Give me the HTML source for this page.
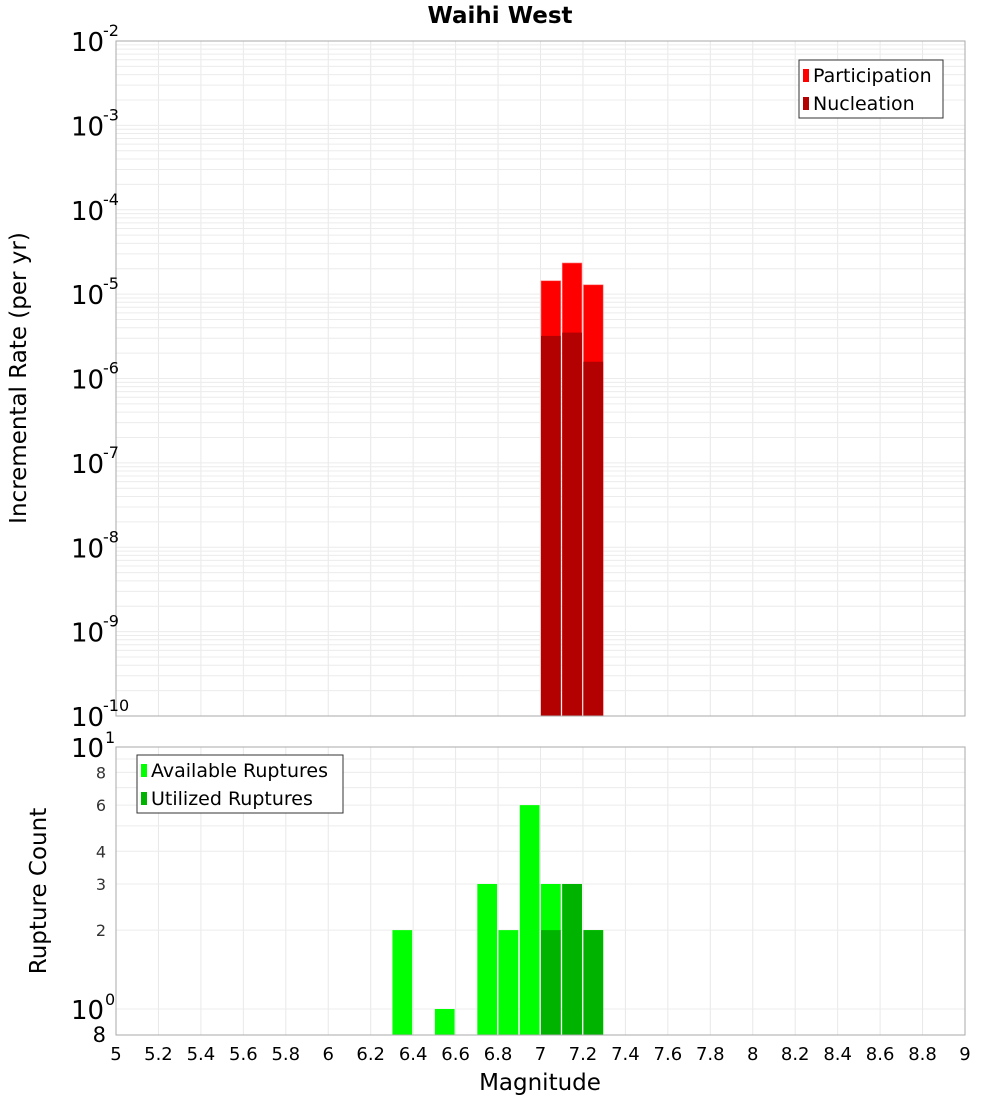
<!DOCTYPE html>
<html><head><meta charset="utf-8"><style>
body{margin:0;background:#fff;font-family:"Liberation Sans","DejaVu Sans",sans-serif}
svg text{font-family:"DejaVu Sans","Liberation Sans",sans-serif}
</style></head><body>
<svg id="c" width="1000" height="1100" xmlns="http://www.w3.org/2000/svg">
<text x="500" y="23" text-anchor="middle" font-size="23" font-weight="bold">Waihi West</text>
<text transform="translate(26,378) rotate(-90)" text-anchor="middle" font-size="23">Incremental Rate (per yr)</text>
<text transform="translate(46,891) rotate(-90)" text-anchor="middle" font-size="23">Rupture Count</text>
<text x="540" y="1090" text-anchor="middle" font-size="23">Magnitude</text>
<g id="g"></g>
</svg>
<script>
const mags=[7.05,7.15,7.25];
const participation=[1.44e-5,2.34e-5,1.29e-5];
const nucleation=[3.2e-6,3.5e-6,1.58e-6];
const countMags=[6.35,6.55,6.75,6.85,6.95,7.05,7.15,7.25];
const available=[2,1,3,2,6,3,3,2];
const utilMags=[7.05,7.15,7.25];
const utilized=[2,3,2];
const xTicks=["5","5.2","5.4","5.6","5.8","6","6.2","6.4","6.6","6.8","7","7.2","7.4","7.6","7.8","8","8.2","8.4","8.6","8.8","9"];
const topExps=[-2,-3,-4,-5,-6,-7,-8,-9,-10];
const botTicks=[8,6,4,3,2];

const NS="http://www.w3.org/2000/svg";
const g=document.getElementById('g');
function el(t,a,p){const e=document.createElementNS(NS,t);for(const k in a)e.setAttribute(k,a[k]);(p||g).appendChild(e);return e;}
const X0=116,X1=965;
const x=m=>X0+(m-5)/4*(X1-X0);
const T0=41,T1=716;
const yT=v=>T0+(-2-Math.log10(v))*(T1-T0)/8;
const B0=747,B1=1035,K=262;
const yB=v=>B0+(1-Math.log10(v))*K;

for(let i=0;i<xTicks.length;i++){const xx=x(parseFloat(xTicks[i]));
 let l=el('line',{x1:xx,x2:xx,y1:T0,y2:T1,stroke:'#e8e8e8'});
 l=el('line',{x1:xx,x2:xx,y1:B0,y2:B1,stroke:'#e8e8e8'});}
for(let e=-10;e<-2;e++)for(let k=1;k<10;k++){const yy=yT(k*Math.pow(10,e));
 const l=el('line',{x1:X0,x2:X1,y1:yy,y2:yy,stroke:'#ececec'});}
[1,2,3,4,5,6,7,8,9,10].forEach(v=>{const yy=yB(v);const l=el('line',{x1:X0,x2:X1,y1:yy,y2:yy,stroke:'#ececec'});});

const w=(X1-X0)/40;
mags.forEach((m,i)=>{
 let r=el('rect',{x:x(m)-w/2+0.5,y:yT(participation[i]),width:w-1.5,height:T1-yT(participation[i]),fill:'#ff0000',stroke:'#ff8080','stroke-width':0.6});
 
 r=el('rect',{x:x(m)-w/2+0.5,y:yT(nucleation[i]),width:w-1.5,height:T1-yT(nucleation[i]),fill:'#b30000'});
 });
countMags.forEach((m,i)=>{const r=el('rect',{x:x(m)-w/2+0.5,y:yB(available[i]),width:w-1.5,height:B1-yB(available[i]),fill:'#00ff00'});
 });
utilMags.forEach((m,i)=>{const r=el('rect',{x:x(m)-w/2+0.5,y:yB(utilized[i]),width:w-1.5,height:B1-yB(utilized[i]),fill:'#00b300'});
 });

let f=el('rect',{x:X0,y:T0,width:X1-X0,height:T1-T0,fill:'none',stroke:'#aaa'});
f=el('rect',{x:X0,y:B0,width:X1-X0,height:B1-B0,fill:'none',stroke:'#aaa'});

xTicks.forEach(t=>{const tx=el('text',{x:x(parseFloat(t)),y:1060,'text-anchor':'middle','font-size':18});tx.textContent=t;
 });
topExps.forEach(e=>{const yy=yT(Math.pow(10,e));
 const t=el('text',{x:71,y:yy+10,'font-size':26});t.textContent='10';
 const s=el('text',{x:103,y:yy-5,'font-size':16});s.textContent=String(e);});
[[10,'1'],[1,'0']].forEach(([v,e])=>{const yy=yB(v);
 const t=el('text',{x:71,y:yy+10,'font-size':26});t.textContent='10';
 const s=el('text',{x:105,y:yy-4,'font-size':16});s.textContent=e;});
botTicks.forEach(v=>{const t=el('text',{x:106,y:yB(v)+6,'text-anchor':'end','font-size':16,fill:'#333'});t.textContent=String(v);
 });
let t8=el('text',{x:106,y:1042,'text-anchor':'end','font-size':21});t8.textContent='8';

function legend(x0,y0,wd,items,name){const gg=el('g',{});
 el('rect',{x:x0,y:y0,width:wd,height:58,fill:'#fff',stroke:'#333'},gg);
 items.forEach((it,i)=>{el('rect',{x:x0+4,y:y0+9+i*28,width:6,height:13,fill:it[1]},gg);
  const t=el('text',{x:x0+14,y:y0+22+i*28,'font-size':19},gg);t.textContent=it[0];});}
legend(799,60,144,[['Participation','#ff0000'],['Nucleation','#b30000']],'top-legend');
legend(137,755,206,[['Available Ruptures','#00ff00'],['Utilized Ruptures','#00b300']],'bottom-legend');
</script>
</body></html>
